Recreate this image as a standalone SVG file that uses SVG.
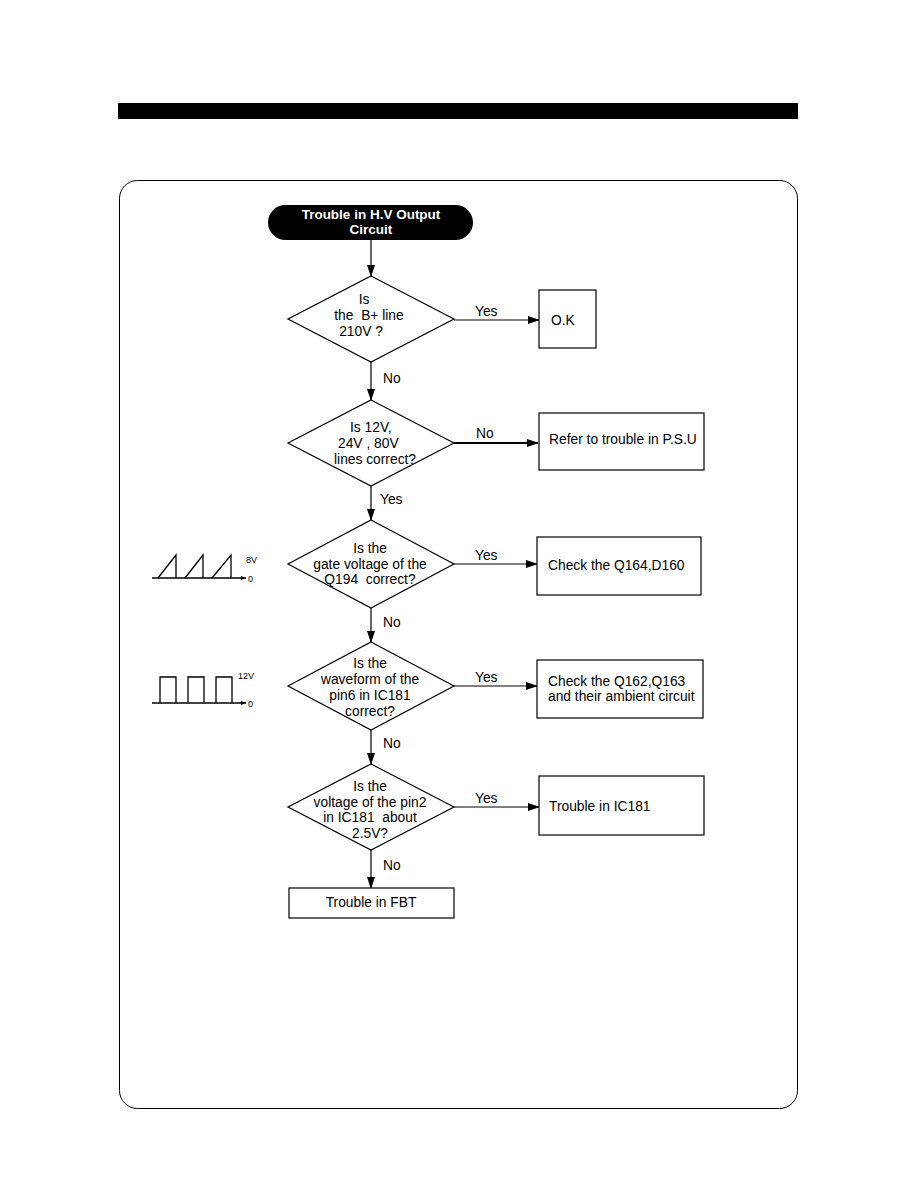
<svg xmlns="http://www.w3.org/2000/svg" width="918" height="1188" viewBox="0 0 918 1188">
<defs>
<marker id="ah" markerWidth="12" markerHeight="8" refX="11" refY="4" orient="auto" markerUnits="userSpaceOnUse"><path d="M0,0 L12,4 L0,8 Z" fill="#000"/></marker>
<marker id="sa" markerWidth="5" markerHeight="4" refX="5" refY="2" orient="auto" markerUnits="userSpaceOnUse"><path d="M0,0 L5,2 L0,4 Z" fill="#000"/></marker>
<style>
.n{fill:#fff;stroke:#000;stroke-width:1.2}
.t{font-family:"Liberation Sans",Arial,sans-serif;font-size:13.8px;fill:#000;white-space:pre}
.c{text-anchor:middle}
.s{font-family:"Liberation Sans",Arial,sans-serif;font-size:9px;fill:#000}
.l{stroke:#000;stroke-width:1.2;fill:none}
.w{stroke:#000;stroke-width:1.3;fill:none}
.h{font-family:"Liberation Sans",Arial,sans-serif;font-size:13.5px;font-weight:bold;fill:#fff;text-anchor:middle}
</style>
</defs>
<rect width="918" height="1188" fill="#fff"/>
<rect x="118" y="103" width="680" height="16" fill="#000"/>
<rect x="119.5" y="180.5" width="678" height="928" rx="18" ry="18" fill="none" stroke="#000" stroke-width="1"/>

<g id="connectors">
<line class="l" x1="371" y1="240" x2="371" y2="276" marker-end="url(#ah)"/>
<line class="l" x1="454" y1="320" x2="539" y2="320" marker-end="url(#ah)"/>
<text class="t" x="475" y="316">Yes</text>
<line class="l" x1="371" y1="362" x2="371" y2="400" marker-end="url(#ah)"/>
<text class="t" x="383" y="383">No</text>
<line x1="454" y1="443" x2="538" y2="443" stroke="#000" stroke-width="2" marker-end="url(#ah)"/>
<text class="t" x="476" y="438">No</text>
<line class="l" x1="371" y1="486" x2="371" y2="520" marker-end="url(#ah)"/>
<text class="t" x="380" y="504">Yes</text>
<line class="l" x1="454" y1="564" x2="537" y2="564" marker-end="url(#ah)"/>
<text class="t" x="475" y="560">Yes</text>
<line class="l" x1="371" y1="608" x2="371" y2="642" marker-end="url(#ah)"/>
<text class="t" x="383" y="627">No</text>
<line class="l" x1="454" y1="686" x2="537" y2="686" marker-end="url(#ah)"/>
<text class="t" x="475" y="682">Yes</text>
<line class="l" x1="371" y1="730" x2="371" y2="764" marker-end="url(#ah)"/>
<text class="t" x="383" y="748">No</text>
<line class="l" x1="454" y1="807" x2="539" y2="807" marker-end="url(#ah)"/>
<text class="t" x="475" y="803">Yes</text>
<line class="l" x1="371" y1="850" x2="371" y2="888" marker-end="url(#ah)"/>
<text class="t" x="383" y="870">No</text>
</g>

<g id="start">
<rect x="268" y="205" width="205" height="35" rx="17.5" ry="17.5" fill="#000"/>
<text class="h" x="371" y="219">Trouble in H.V Output</text>
<text class="h" x="371" y="234">Circuit</text>
</g>

<g id="d1">
<polygon class="n" points="371,276 454,319 371,362 288,319"/>
<text class="t c" x="364" y="304">Is</text>
<text class="t c" x="369" y="320">the  B+ line</text>
<text class="t c" x="361" y="336">210V ?</text>
</g>
<g id="ok">
<rect class="n" x="539" y="290" width="57" height="58"/>
<text class="t" x="551" y="325">O.K</text>
</g>

<g id="d2">
<polygon class="n" points="371,400 454,443 371,486 288,443"/>
<text class="t" x="350" y="432">Is 12V,</text>
<text class="t" x="338" y="448">24V , 80V</text>
<text class="t" x="334" y="464">lines correct?</text>
</g>
<g id="psu">
<rect class="n" x="539" y="413" width="165" height="57"/>
<text class="t" x="549" y="444">Refer to trouble in P.S.U</text>
</g>

<g id="d3">
<polygon class="n" points="371,520 454,564 371,608 288,564"/>
<text class="t c" x="370" y="553">Is the</text>
<text class="t c" x="370" y="569">gate voltage of the</text>
<text class="t c" x="370" y="584">Q194  correct?</text>
</g>
<g id="q164">
<rect class="n" x="537" y="537" width="164" height="58"/>
<text class="t" x="548" y="570">Check the Q164,D160</text>
</g>
<g id="wave1">
<line class="w" x1="152" y1="578" x2="246" y2="578" marker-end="url(#sa)"/>
<path class="w" d="M158,578 L176,555 L176,578 M185,578 L203,555 L203,578 M212,578 L231,555 L231,578"/>
<text class="s" x="246" y="563">8V</text>
<text class="s" x="248" y="582">0</text>
</g>

<g id="d4">
<polygon class="n" points="371,642 454,686 371,730 288,686"/>
<text class="t c" x="370" y="668">Is the</text>
<text class="t c" x="370" y="684">waveform of the</text>
<text class="t c" x="370" y="700">pin6 in IC181</text>
<text class="t c" x="370" y="716">correct?</text>
</g>
<g id="q162">
<rect class="n" x="537" y="660" width="166" height="58"/>
<text class="t" x="548" y="686">Check the Q162,Q163</text>
<text class="t" x="548" y="701">and their ambient circuit</text>
</g>
<g id="wave2">
<line class="w" x1="152" y1="703" x2="246" y2="703" marker-end="url(#sa)"/>
<path class="w" d="M160,703 L160,677 L176,677 L176,703 M188,703 L188,677 L204,677 L204,703 M216,703 L216,677 L232,677 L232,703"/>
<text class="s" x="238" y="679">12V</text>
<text class="s" x="248" y="707">0</text>
</g>

<g id="d5">
<polygon class="n" points="371,764 454,807 371,850 288,807"/>
<text class="t c" x="370" y="791">Is the</text>
<text class="t c" x="370" y="807">voltage of the pin2</text>
<text class="t c" x="370" y="822">in IC181  about</text>
<text class="t c" x="370" y="838">2.5V?</text>
</g>
<g id="ic181">
<rect class="n" x="539" y="776" width="165" height="59"/>
<text class="t" x="549" y="811">Trouble in IC181</text>
</g>
<g id="fbt">
<rect class="n" x="289" y="888" width="165" height="30"/>
<text class="t c" x="371" y="907">Trouble in FBT</text>
</g>
</svg>
